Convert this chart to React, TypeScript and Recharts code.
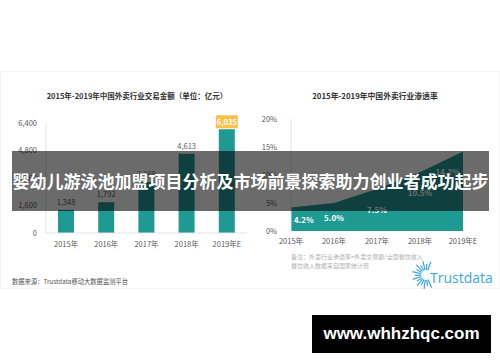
import React from 'react'
import { BarChart, Bar, AreaChart, Area, XAxis, YAxis, LabelList } from 'recharts'

const years = ['2015年', '2016年', '2017年', '2018年', '2019年E']
const tradeAmount = [1348, 1792, 2969, 4613, 6035]
const amountTicks = [0, 1600, 3200, 4800, 6400]
const penetration = [4.2, 5.0, 7.5, 10.5, 14.2]
const rateTicks = [0, 5, 10, 15, 20]

const TEAL = '#1f9a93'
const FONT = '"Noto Sans CJK SC", "Noto Sans", sans-serif'

const barData = years.map((year, i) => ({ year, value: tradeAmount[i] }))
const areaData = years.map((year, i) => ({ year, value: penetration[i] }))

const fmt = (v: number) => v.toLocaleString('en-US')

// the last bar carries its value in a yellow box
function BarValue(props: any) {
  const { x, y, width, value, index } = props
  const cx = x + width / 2
  if (index === tradeAmount.length - 1) {
    return (
      <g>
        <rect x={cx - 11} y={y - 14} width={22} height={13} fill="#fbc04a" />
        <text x={cx} y={y - 7.5} textAnchor="middle" dominantBaseline="central" fill="#fff" fontSize={7.5} fontWeight={700} fontFamily={FONT}>
          {fmt(value)}
        </text>
      </g>
    )
  }
  return (
    <text x={cx} y={y - 5} textAnchor="middle" fill="#595959" fontSize={7.5} fontFamily={FONT}>
      {fmt(value)}
    </text>
  )
}

const AREA_BOTTOM = 131
function AreaValue(props: any) {
  const { x, y, value, index } = props
  const last = penetration.length - 1
  const anchor = index === 0 ? 'start' : index === last ? 'end' : 'middle'
  const dx = index === 0 ? 3 : index === last ? -3 : 0
  const dy = Math.min((AREA_BOTTOM - y) / 2, 20)
  return (
    <text x={x + dx} y={y + dy} textAnchor={anchor} dominantBaseline="central" fill="#fff" fontSize={8} fontWeight={700} fontFamily={FONT}>
      {value.toFixed(1)}%
    </text>
  )
}

const tickStyle = { fontSize: 7.5, fill: '#595959', fontFamily: FONT }

export default function App() {
  return (
    <div style={{ position: 'absolute', left: 0, top: 0, width: 500, height: 362, background: '#fff', overflow: 'hidden', fontFamily: FONT }}>
      <div style={{ position: 'absolute', left: 0, top: 71, width: 498, height: 216, border: '1px solid #f4f4f4' }} />

      <div style={{ position: 'absolute', left: 0, top: 90, width: 250, textAlign: 'center', fontSize: 7.5, fontWeight: 700, color: '#333', paddingLeft: 24, boxSizing: 'border-box' }}>
        2015年-2019年中国外卖行业交易金额（单位：亿元）
      </div>
      <div style={{ position: 'absolute', left: 250, top: 90, width: 250, textAlign: 'center', fontSize: 7.8, fontWeight: 700, color: '#333' }}>
        2015年-2019年中国外卖行业渗透率
      </div>

      <div style={{ position: 'absolute', left: 0, top: 100 }}>
        <BarChart width={250} height={152} data={barData} margin={{ top: 23, right: 3, left: 6, bottom: 0 }}>
          <XAxis dataKey="year" height={19} tickLine={false} tickSize={0} tickMargin={9} axisLine={{ stroke: '#e3e3e3' }} tick={tickStyle} interval={0} />
          <YAxis width={40} domain={[0, 6400]} ticks={amountTicks} tickFormatter={fmt} tickLine={false} tickSize={0} tickMargin={9} axisLine={{ stroke: '#e3e3e3' }} tick={tickStyle} interval={0} />
          <Bar dataKey="value" fill={TEAL} barSize={16} isAnimationActive={false}>
            <LabelList dataKey="value" content={BarValue} />
          </Bar>
        </BarChart>
      </div>

      <div style={{ position: 'absolute', left: 250, top: 100 }}>
        <AreaChart width={250} height={150} data={areaData} margin={{ top: 19, right: 37, left: 6, bottom: 0 }}>
          <XAxis dataKey="year" height={19} tickLine={false} tickSize={0} tickMargin={8} axisLine={false} tick={tickStyle} interval={0} />
          <YAxis width={35} domain={[0, 20]} ticks={rateTicks} tickFormatter={(v: number) => `${v}%`} tickLine={false} tickMargin={8} axisLine={{ stroke: '#e3e3e3' }} tick={tickStyle} interval={0} />
          <Area type="linear" dataKey="value" stroke="none" fill={TEAL} fillOpacity={1} isAnimationActive={false}>
            <LabelList dataKey="value" content={AreaValue} />
          </Area>
        </AreaChart>
      </div>

      <div style={{ position: 'absolute', left: 291, top: 252, fontSize: 6, lineHeight: '9px', color: '#b0b0b0' }}>
        备注：外卖行业渗透率=外卖交易额/全国餐饮收入<br />餐饮收入数据来自国家统计局
      </div>
      <div style={{ position: 'absolute', left: 12, top: 277, fontSize: 6.3, color: '#555' }}>
        数据来源：Trustdata移动大数据监测平台
      </div>

      <svg style={{ position: 'absolute', left: 410, top: 260 }} width={90} height={30}>
        {Array.from({ length: 15 }).map((_, i) => {
          const a = ((70 + i * 16) * Math.PI) / 180
          const r1 = 5
          const r2 = i % 2 ? 11 : 14
          return (
            <line key={i} x1={16 + r1 * Math.cos(a)} y1={15 - r1 * Math.sin(a)} x2={16 + r2 * Math.cos(a)} y2={15 - r2 * Math.sin(a)} stroke="#3aa7df" strokeWidth={1.2} />
          )
        })}
        <text x={20} y={23} fontSize={14} fill="#3aa7df" fontFamily='"Open Sans", sans-serif'>Trustdata</text>
      </svg>

      <div style={{ position: 'absolute', left: 12, top: 151, width: 477, height: 60, background: 'rgba(0,0,0,0.58)', color: '#fff', fontSize: 17, fontWeight: 700, lineHeight: '60px', textAlign: 'center', whiteSpace: 'nowrap' }}>
        婴幼儿游泳池加盟项目分析及市场前景探索助力创业者成功起步
      </div>

      <div style={{ position: 'absolute', left: 312, top: 315, width: 179, height: 38, background: '#000', color: '#fff', fontSize: 17, fontWeight: 700, lineHeight: '38px', textAlign: 'center', fontFamily: '"Liberation Sans", Arial, sans-serif' }}>
        www.whhzhqc.com
      </div>
    </div>
  )
}
